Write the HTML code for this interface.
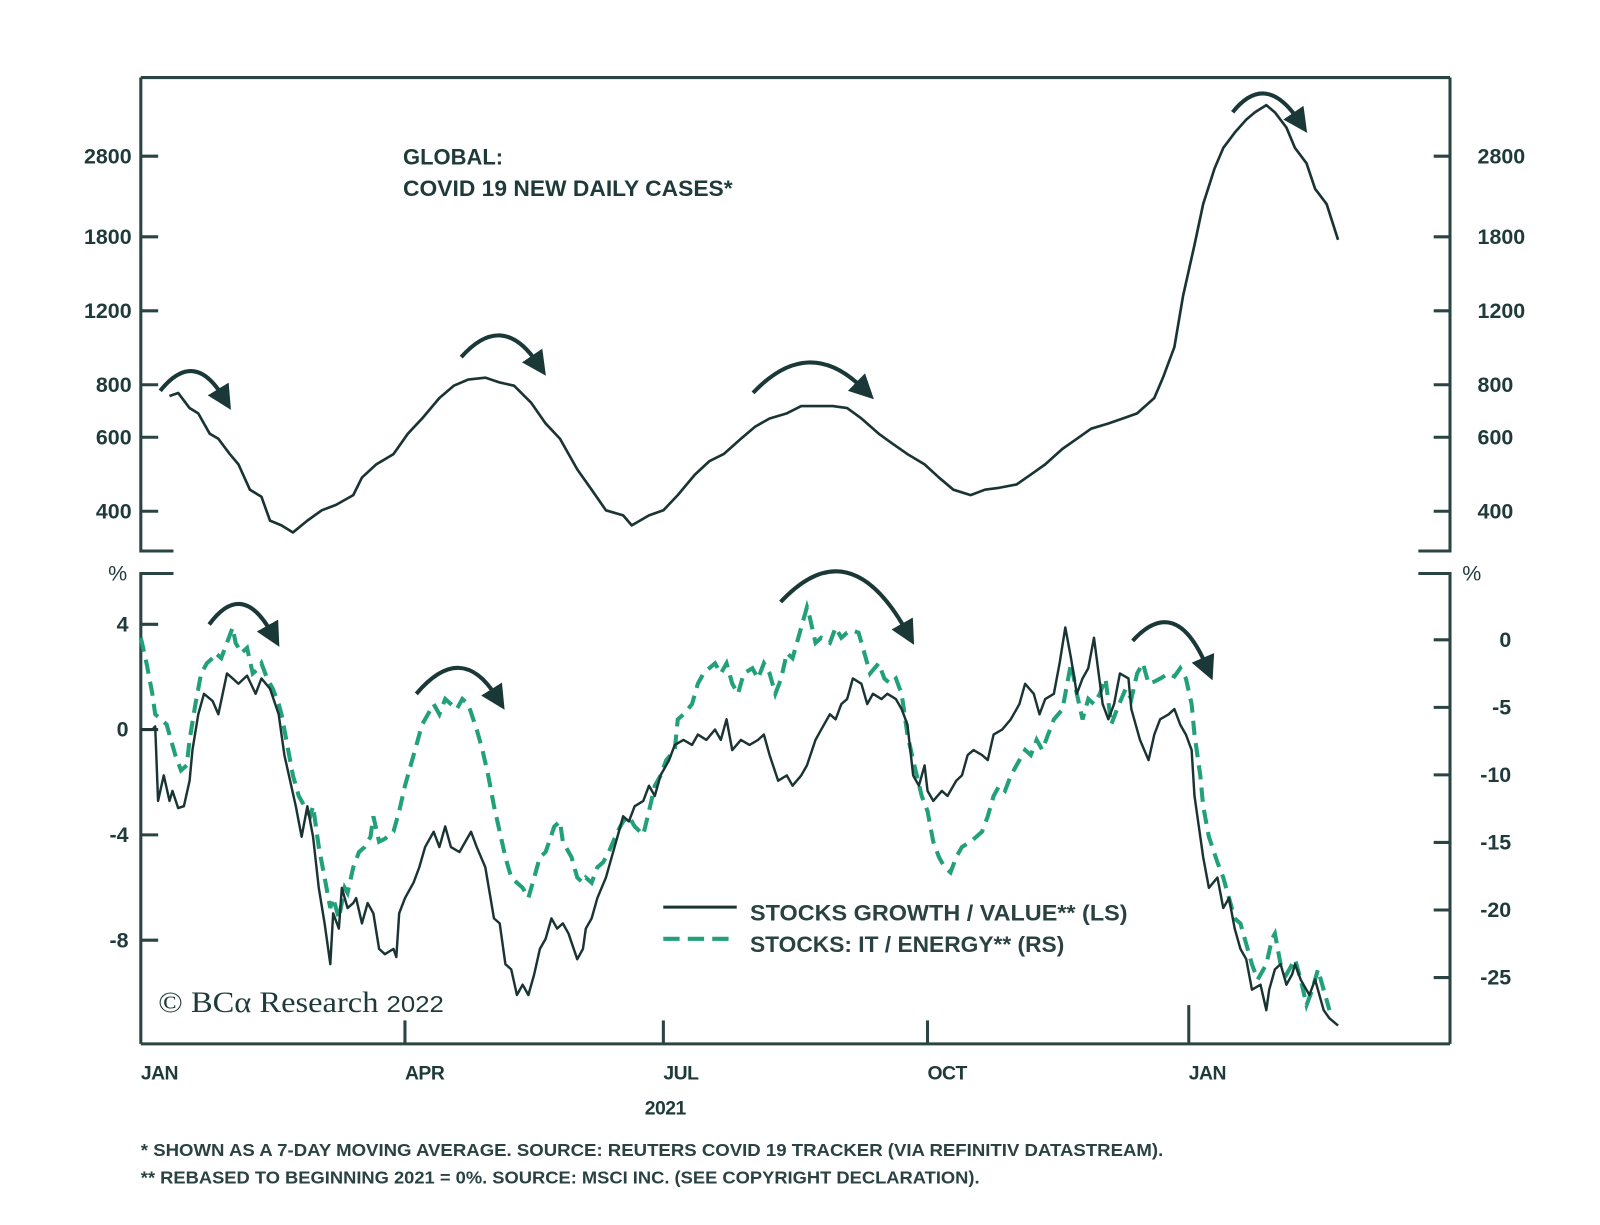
<!DOCTYPE html>
<html><head><meta charset="utf-8">
<style>
html,body{margin:0;padding:0;background:#fff;}
svg{display:block;}
text{font-family:"Liberation Sans",sans-serif;fill:#1f3a3a;}
.tk{font-size:21px;font-weight:bold;}
.mo{font-size:19px;font-weight:bold;letter-spacing:-0.5px;}
.lg{font-size:22px;font-weight:bold;fill:#2a4242;}
.fn{font-size:17px;font-weight:bold;fill:#2a4242;}
</style></head>
<body>
<svg id="chart" width="1600" height="1225" viewBox="0 0 1568 1200.5" preserveAspectRatio="none" xmlns="http://www.w3.org/2000/svg">
<defs>
<marker id="ah" markerWidth="6" markerHeight="6" refX="2" refY="3" orient="auto" markerUnits="strokeWidth"><path d="M0,0 L6,3 L0,6 z" fill="#1a3838"/></marker>
</defs>
<g id="frame" stroke="#2a4444" stroke-width="3" fill="none">
<line x1="138" y1="76" x2="1421" y2="76"/>
<line x1="138" y1="1023" x2="1421" y2="1023"/>
<polyline points="138,76 138,540 170,540"/>
<polyline points="170,562 138,562 138,1023"/>
<polyline points="1421,76 1421,540 1390,540"/>
<polyline points="1390,562 1421,562 1421,1023"/>
</g>
<g id="axes"></g>
<g id="series"></g>
<g id="arrows" stroke="#1a3838" stroke-width="4" fill="none">
<path d="M157,383 Q190,342 218,388" marker-end="url(#ah)"/>
<path d="M452,350 Q492,305 526,355" marker-end="url(#ah)"/>
<path d="M738,385 Q792,328 845,380" marker-end="url(#ah)"/>
<path d="M1208,110 Q1240,70 1272,117" marker-end="url(#ah)"/>
<path d="M205,612 Q237,568 266,620" marker-end="url(#ah)"/>
<path d="M408,680 Q452,628 486,682" marker-end="url(#ah)"/>
<path d="M765,590 Q832,518 888,618" marker-end="url(#ah)"/>
<path d="M1110,628 Q1152,582 1182,652" marker-end="url(#ah)"/>
</g>
<text x="395" y="161" style="font-size:22px;font-weight:bold" textLength="98" lengthAdjust="spacingAndGlyphs">GLOBAL:</text>
<text x="395" y="192" style="font-size:22px;font-weight:bold" textLength="323" lengthAdjust="spacingAndGlyphs">COVID 19 NEW DAILY CASES*</text>
<text x="106" y="569" class="tk" style="font-weight:normal">%</text>
<text x="1433" y="569" class="tk" style="font-weight:normal">%</text>
<line x1="650" y1="889" x2="722" y2="889" stroke="#1a3434" stroke-width="3"/>
<line x1="650" y1="920" x2="722" y2="920" stroke="#22a07a" stroke-width="4" stroke-dasharray="16,8"/>
<text x="735" y="902" class="lg" textLength="370" lengthAdjust="spacingAndGlyphs">STOCKS GROWTH / VALUE** (LS)</text>
<text x="735" y="933" class="lg" textLength="308" lengthAdjust="spacingAndGlyphs">STOCKS: IT / ENERGY** (RS)</text>
<text x="155" y="992" style="font-family:'Liberation Serif',serif;font-size:29px;" textLength="280" lengthAdjust="spacingAndGlyphs">© BCα Research <tspan style="font-family:'Liberation Sans',sans-serif;font-size:23px">2022</tspan></text>
<text x="652" y="1092" class="mo" text-anchor="middle">2021</text>
<text x="138" y="1133" class="fn" textLength="1002" lengthAdjust="spacingAndGlyphs">* SHOWN AS A 7-DAY MOVING AVERAGE. SOURCE: REUTERS COVID 19 TRACKER (VIA REFINITIV DATASTREAM).</text>
<text x="138" y="1160" class="fn" textLength="822" lengthAdjust="spacingAndGlyphs">** REBASED TO BEGINNING 2021 = 0%. SOURCE: MSCI INC. (SEE COPYRIGHT DECLARATION).</text>
</svg>
<script>
const caseTicks=[2800,1800,1200,800,600,400];
const leftTicks=[4,0,-4,-8];
const rightTicks=[0,-5,-10,-15,-20,-25];
const monthLabels=["JAN","APR","JUL","OCT","JAN"];
const monthDays=[0,92,182,274,365];
const caseDays=[10,13,17,20,24,27,31,34,38,42,45,49,53,58,63,68,74,77,82,88,93,98,104,109,114,120,125,130,136,141,146,152,157,162,168,171,177,182,187,193,198,203,209,214,219,225,230,235,241,246,251,257,262,267,273,278,283,289,294,299,305,310,315,321,326,331,337,342,347,353,356,360,363,367,370,374,377,381,385,388,392,395,399,402,406,409,413,417];
const caseValues=[752,765,704,684,612,595,547,517,450,433,380,370,356,380,402,414,437,481,517,547,612,665,744,796,823,832,810,796,724,647,595,503,450,402,391,370,391,402,437,489,526,547,595,636,665,684,712,712,712,704,665,612,578,547,517,481,450,437,450,455,463,489,517,563,595,629,647,665,684,744,832,984,1302,1722,2154,2619,2929,3185,3423,3561,3704,3561,3276,2929,2694,2342,2154,1771];
const growthDays=[0,4,5,6,8,10,11,13,15,17,18,20,22,25,27,30,32,34,37,40,42,45,48,50,54,56,58,60,62,64,66,67,69,70,72,74,75,77,79,81,83,85,88,89,90,92,95,97,99,102,104,106,108,111,115,117,120,123,125,127,129,131,133,135,137,139,141,143,145,147,149,152,154,155,157,159,162,166,168,170,172,175,177,179,181,184,186,189,192,194,197,200,202,204,206,209,212,215,217,219,222,225,227,230,232,235,237,240,242,244,246,248,251,253,255,258,260,263,265,267,269,271,273,274,276,279,281,284,286,288,290,293,295,297,300,303,306,308,311,313,315,318,320,322,324,326,328,330,332,335,337,339,341,344,345,348,351,353,355,358,360,362,364,366,367,370,372,375,377,379,381,383,385,387,390,392,393,395,397,399,401,402,404,407,409,412,414,417];
const growthValues=[0,0,0.12,-2.71,-1.74,-2.71,-2.33,-2.98,-2.91,-1.94,-0.78,0.58,1.36,1.09,0.58,2.13,1.94,1.74,2.05,1.36,1.94,1.55,0.58,-0.97,-2.91,-4.07,-2.91,-4.07,-6.01,-7.36,-8.91,-6.98,-7.56,-6.01,-6.78,-6.59,-6.40,-7.36,-6.59,-6.98,-8.33,-8.53,-8.33,-8.64,-6.98,-6.40,-5.81,-5.23,-4.46,-3.88,-4.46,-3.68,-4.46,-4.65,-3.88,-4.46,-5.23,-7.17,-7.36,-8.91,-9.11,-10.08,-9.69,-10.08,-9.30,-8.33,-7.95,-7.17,-7.56,-7.36,-7.75,-8.72,-8.33,-7.56,-7.17,-6.40,-5.62,-4.07,-3.29,-3.49,-2.91,-2.71,-2.13,-2.52,-1.74,-1.16,-0.58,-0.39,-0.58,-0.19,-0.39,0,-0.39,0.39,-0.78,-0.39,-0.58,-0.39,-0.19,-0.97,-1.94,-1.74,-2.13,-1.74,-1.36,-0.39,0,0.58,0.39,0.97,1.16,1.94,1.74,0.97,1.36,1.16,1.36,1.16,0.78,0.19,-1.74,-2.13,-1.36,-2.33,-2.71,-2.33,-2.52,-1.94,-1.74,-0.97,-0.78,-0.97,-1.16,-0.19,0,0.39,0.97,1.74,1.36,0.58,1.16,1.36,2.52,3.88,2.71,1.36,1.94,2.33,3.49,0.97,0.39,0.97,2.13,1.94,0.78,-0.39,-1.16,-0.19,0.39,0.58,0.78,0.19,-0.19,-0.78,-2.52,-4.84,-6.01,-5.62,-6.78,-6.40,-7.56,-8.33,-8.72,-9.88,-9.69,-10.66,-9.88,-9.11,-8.91,-9.69,-9.30,-8.91,-9.50,-10.08,-9.50,-10.66,-10.97,-11.24];
const itDays=[0,2,4,5,7,9,10,12,14,16,17,19,21,23,25,26,28,30,32,33,35,37,39,41,42,44,46,48,49,51,53,55,57,59,60,62,64,66,67,69,71,72,74,76,78,80,81,83,85,88,90,92,94,96,98,100,102,104,106,108,110,112,114,117,119,121,123,125,127,129,131,133,135,137,139,141,144,146,147,150,152,154,155,157,159,161,163,166,168,170,172,175,177,179,181,183,186,187,189,192,194,196,198,200,202,204,206,208,210,213,215,217,219,221,223,225,227,230,232,233,235,237,240,242,244,246,248,250,252,254,257,259,261,263,265,267,269,272,274,276,278,280,282,284,286,289,291,293,295,297,299,301,303,306,308,310,312,314,316,318,321,323,324,326,328,330,332,334,336,338,340,343,345,347,349,351,353,355,358,360,362,364,366,367,369,370,372,375,377,379,381,383,385,387,389,392,394,395,397,399,402,404,406,408,410,412,414];
const itValues=[0.15,-1.74,-4.0,-5.51,-5.89,-6.27,-7.02,-8.53,-9.67,-9.29,-7.40,-4.76,-2.49,-1.74,-1.36,-0.98,-1.36,-0.23,0.91,-0.23,-0.98,-0.60,-2.49,-2.11,-1.74,-2.87,-3.63,-4.76,-5.51,-7.78,-10.05,-11.56,-12.31,-13.07,-12.31,-15.33,-17.60,-19.86,-19.11,-20.62,-18.35,-18.73,-16.84,-15.71,-15.33,-14.58,-13.07,-14.95,-14.73,-14.20,-12.69,-10.80,-9.29,-7.78,-6.27,-5.51,-4.76,-5.51,-4.38,-4.76,-5.14,-4.38,-4.76,-6.65,-8.16,-10.05,-12.31,-14.20,-16.09,-17.60,-17.98,-18.35,-19.11,-17.60,-16.09,-15.71,-13.82,-13.44,-14.95,-16.09,-17.60,-17.98,-17.60,-17.98,-16.84,-16.47,-15.71,-14.20,-13.44,-13.07,-13.82,-14.43,-12.69,-10.80,-10.05,-8.91,-8.16,-5.89,-5.51,-4.76,-3.25,-2.49,-2.11,-1.74,-2.49,-1.74,-3.25,-4.0,-2.49,-2.11,-2.87,-1.74,-2.49,-4.0,-2.87,-0.98,-1.36,0.91,2.42,1.66,-0.23,0.15,-0.23,0.91,0.15,0.53,0.68,0.53,-0.98,-2.49,-1.74,-2.87,-3.25,-2.87,-4.0,-7.02,-8.91,-11.56,-12.69,-14.95,-16.09,-16.84,-17.22,-16.09,-15.33,-14.95,-14.58,-14.20,-13.07,-11.56,-10.80,-11.18,-10.05,-8.91,-8.16,-8.53,-7.40,-8.16,-7.02,-5.89,-5.14,-2.87,-1.74,-4.0,-5.89,-4.38,-4.76,-4.0,-2.87,-6.27,-5.14,-3.63,-4.38,-2.49,-1.74,-3.25,-3.10,-2.87,-2.49,-2.72,-2.11,-2.87,-4.76,-7.02,-10.05,-12.31,-14.58,-16.47,-17.60,-19.11,-20.62,-21.0,-22.51,-24.02,-25.15,-24.02,-22.13,-21.75,-24.02,-24.77,-23.64,-25.15,-27.04,-25.91,-24.40,-25.91,-27.42];

const NS="http://www.w3.org/2000/svg";
const xS=d=>138+d*2.8137;
const yCase=v=>501-178.8*Math.log(v/400);
const yL=v=>715-25.8*v;
const yR=v=>627-13.24*v;
function mk(tag,attrs,parent){const e=document.createElementNS(NS,tag);for(const k in attrs)e.setAttribute(k,attrs[k]);parent.appendChild(e);return e;}
const axes=document.getElementById('axes');
const ser=document.getElementById('series');
caseTicks.forEach(v=>{
  const y=yCase(v);
  let l=mk('line',{x1:138,y1:y,x2:155,y2:y,stroke:'#2a4444','stroke-width':3},axes);
  
  
  let r=mk('line',{x1:1405,y1:y,x2:1421,y2:y,stroke:'#2a4444','stroke-width':3},axes);
  
  
  let t=mk('text',{x:129,y:y+7,'text-anchor':'end',class:'tk'},axes);t.textContent=v;
  
  
  let t2=mk('text',{x:1448,y:y+7,class:'tk'},axes);t2.textContent=v;
  
  
});
leftTicks.forEach(v=>{
  const y=yL(v);
  let l=mk('line',{x1:138,y1:y,x2:155,y2:y,stroke:'#2a4444','stroke-width':3},axes);
  
  
  let t=mk('text',{x:126,y:y+7,'text-anchor':'end',class:'tk'},axes);t.textContent=v;
  
  
});
rightTicks.forEach(v=>{
  const y=yR(v);
  let l=mk('line',{x1:1405,y1:y,x2:1421,y2:y,stroke:'#2a4444','stroke-width':3},axes);
  
  
  let t=mk('text',{x:1481,y:y+7,'text-anchor':'end',class:'tk'},axes);t.textContent=v;
  
  
});
monthDays.forEach((d,i)=>{
  const x=xS(d);
  if(i>0){let l=mk('line',{x1:x,y1:(i===4?985:1000),x2:x,y2:1023,stroke:'#2a4444','stroke-width':3},axes);
  
  }
  let t=mk('text',{x:x,y:1058,class:'mo'},axes);t.textContent=monthLabels[i];
  
  
});
function pts(days,vals,yf){const n=Math.min(days.length,vals.length);let s=[];for(let i=0;i<n;i++)s.push(xS(days[i]).toFixed(1)+','+yf(vals[i]).toFixed(1));return s.join(' ');}
let p1=mk('polyline',{points:pts(caseDays,caseValues,yCase),fill:'none',stroke:'#1a3434','stroke-width':2.6,'stroke-linejoin':'round'},ser);


let p3=mk('polyline',{points:pts(itDays,itValues,yR),fill:'none',stroke:'#22a07a','stroke-width':4,'stroke-dasharray':'14,8'},ser);


let p2=mk('polyline',{points:pts(growthDays,growthValues,yL),fill:'none',stroke:'#1a3434','stroke-width':2.4,'stroke-linejoin':'round'},ser);


</script>
</body></html>
